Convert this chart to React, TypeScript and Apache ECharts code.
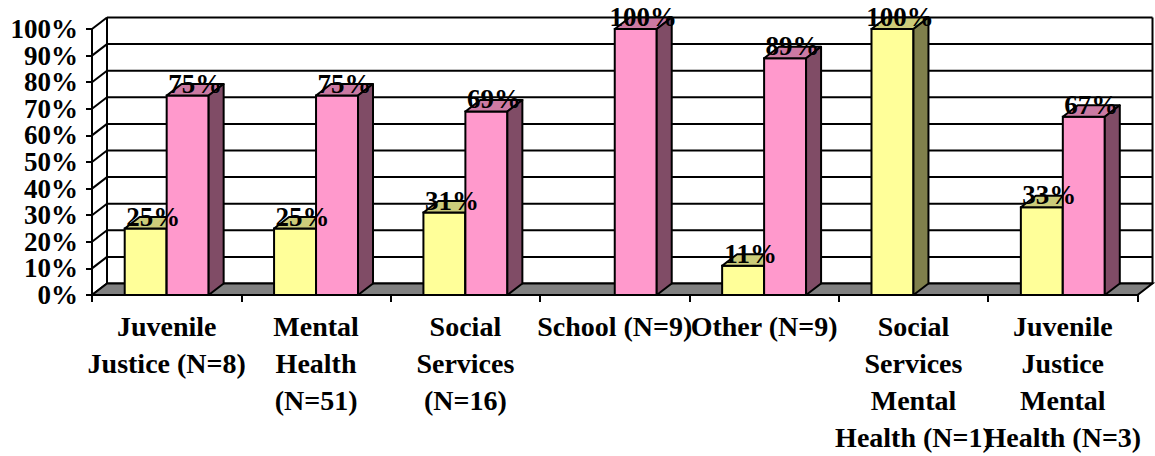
import React, { useEffect, useRef } from "react";
import * as echarts from "echarts";

// Agency categories along the floor of the chart
const categories = [
  "Juvenile\nJustice (N=8)",
  "Mental\nHealth\n(N=51)",
  "Social\nServices\n(N=16)",
  "School (N=9)",
  "Other (N=9)",
  "Social\nServices\nMental\nHealth (N=1)",
  "Juvenile\nJustice\nMental\nHealth (N=3)",
];

// Percentages for the two series in each category
const yellowValues = [25, 25, 31, 0, 11, 100, 33];
const pinkValues = [75, 75, 69, 100, 89, 0, 67];

// Value-axis levels that get a wall gridline and a tick label
const wallTicks = [0, 10, 20, 30, 40, 50, 60, 70, 80, 90, 100];

// Pseudo-3D depth offset of the back wall relative to the front plane
const DX = 15;
const DY = -11.5;
const BAR_FRACTION = 0.281;
const FONT = "'Liberation Serif', 'Times New Roman', serif";

const YELLOW = { front: "#FFFF99", top: "#CCCC7A", side: "#80804C" };
const PINK = { front: "#FF99CC", top: "#CC7AA3", side: "#804C66" };

const edge = { stroke: "#000", lineWidth: 2 };

function barRenderer(slot: number, colors: { front: string; top: string; side: string }) {
  return (params: any, api: any) => {
    const value = api.value(1);
    if (!value) return { type: "group", children: [] };
    const base = api.coord([api.value(0), 0]);
    const top = api.coord([api.value(0), value]);
    const bw = api.size([1, 0])[0] * BAR_FRACTION;
    const x0 = slot === 0 ? base[0] - bw : base[0];
    const x1 = x0 + bw;
    const yb = base[1];
    const yt = top[1];
    return {
      type: "group",
      children: [
        {
          type: "rect",
          shape: { x: x0, y: yt, width: bw, height: yb - yt },
          style: { fill: colors.front, ...edge },
        },
        {
          type: "polygon",
          shape: { points: [[x0, yt], [x1, yt], [x1 + DX, yt + DY], [x0 + DX, yt + DY]] },
          style: { fill: colors.top, ...edge, lineJoin: "round" },
        },
        {
          type: "polygon",
          shape: { points: [[x1, yt], [x1 + DX, yt + DY], [x1 + DX, yb + DY], [x1, yb]] },
          style: { fill: colors.side, ...edge, lineJoin: "round" },
        },
      ],
    };
  };
}

function labelRenderer(slot: number) {
  return (params: any, api: any) => {
    const value = api.value(1);
    if (!value) return { type: "group", children: [] };
    const base = api.coord([api.value(0), 0]);
    const top = api.coord([api.value(0), value]);
    const bw = api.size([1, 0])[0] * BAR_FRACTION;
    const x0 = slot === 0 ? base[0] - bw : base[0];
    return {
      type: "text",
      x: x0 + bw / 2 + DX / 2,
      y: top[1] - 12,
      style: {
        text: `${value}%`,
        fill: "#000",
        fontSize: 27,
        fontWeight: "bold",
        fontFamily: FONT,
        align: "center",
        verticalAlign: "middle",
      },
    };
  };
}

export default function App() {
  const ref = useRef<HTMLDivElement>(null);

  useEffect(() => {
    if (!ref.current) return;
    const chart = echarts.init(ref.current, undefined, { renderer: "svg" });

    const option: any = {
      animation: false,
      backgroundColor: "#fff",
      grid: { left: 92, top: 29, width: 1045.5, height: 271, containLabel: false },
      xAxis: {
        type: "category",
        data: categories,
        boundaryGap: true,
        axisLine: { show: true, lineStyle: { color: "#000", width: 2 } },
        axisTick: { show: true, length: 7, alignWithLabel: false, lineStyle: { color: "#000", width: 2 } },
        axisLabel: {
          interval: 0,
          margin: 13,
          color: "#000",
          fontSize: 28,
          fontWeight: "bold",
          fontFamily: FONT,
          lineHeight: 37,
          align: "center",
        },
        splitLine: { show: false },
      },
      yAxis: {
        type: "value",
        min: 0,
        max: 100,
        interval: 10,
        axisLine: { show: true, lineStyle: { color: "#000", width: 2 } },
        axisTick: { show: true, length: 6, lineStyle: { color: "#000", width: 2 } },
        // tick labels are drawn by the label series below so that every level shows
        axisLabel: { show: false },
        splitLine: { show: false },
      },
      series: [
        {
          // back wall gridlines with the matching diagonals on the side wall
          type: "custom",
          z: 1,
          data: wallTicks.map((t) => [0, t]),
          encode: { x: 0, y: 1 },
          renderItem: (params: any, api: any) => {
            const cs = params.coordSys;
            const y = api.coord([0, api.value(1)])[1];
            return {
              type: "group",
              children: [
                { type: "line", shape: { x1: cs.x, y1: y, x2: cs.x + DX, y2: y + DY }, style: edge },
                {
                  type: "line",
                  shape: { x1: cs.x + DX, y1: y + DY, x2: cs.x + cs.width + DX, y2: y + DY },
                  style: edge,
                },
              ],
            };
          },
        },
        {
          // value-axis tick labels
          type: "custom",
          z: 1,
          data: wallTicks.map((t) => [0, t]),
          encode: { x: 0, y: 1 },
          renderItem: (params: any, api: any) => {
            const cs = params.coordSys;
            const v = api.value(1);
            const y = api.coord([0, v])[1];
            return {
              type: "text",
              x: cs.x - 14,
              y,
              style: {
                text: `${v}%`,
                fill: "#000",
                fontSize: 27,
                fontWeight: "bold",
                fontFamily: FONT,
                align: "right",
                verticalAlign: "middle",
              },
            };
          },
        },
        {
          // back wall side edges and the grey floor
          type: "custom",
          z: 1,
          data: [[0, 0]],
          encode: { x: 0, y: 1 },
          renderItem: (params: any, api: any) => {
            const cs = params.coordSys;
            const y0 = api.coord([0, 0])[1];
            const y100 = api.coord([0, 100])[1];
            const xl = cs.x;
            const xr = cs.x + cs.width;
            return {
              type: "group",
              children: [
                { type: "line", shape: { x1: xl + DX, y1: y100 + DY, x2: xl + DX, y2: y0 + DY }, style: edge },
                { type: "line", shape: { x1: xr + DX, y1: y100 + DY, x2: xr + DX, y2: y0 + DY }, style: edge },
                {
                  type: "polygon",
                  shape: { points: [[xl, y0], [xr, y0], [xr + DX, y0 + DY], [xl + DX, y0 + DY]] },
                  style: { fill: "#808080", ...edge },
                },
              ],
            };
          },
        },
        {
          type: "custom",
          z: 3,
          data: yellowValues.map((v, i) => [i, v]),
          encode: { x: 0, y: 1 },
          renderItem: barRenderer(0, YELLOW),
        },
        {
          type: "custom",
          z: 3,
          data: pinkValues.map((v, i) => [i, v]),
          encode: { x: 0, y: 1 },
          renderItem: barRenderer(1, PINK),
        },
        {
          type: "custom",
          z: 10,
          data: yellowValues.map((v, i) => [i, v]),
          encode: { x: 0, y: 1 },
          renderItem: labelRenderer(0),
        },
        {
          type: "custom",
          z: 10,
          data: pinkValues.map((v, i) => [i, v]),
          encode: { x: 0, y: 1 },
          renderItem: labelRenderer(1),
        },
      ],
    };

    chart.setOption(option);
    return () => chart.dispose();
  }, []);

  return (
    <div
      ref={ref}
      style={{ position: "absolute", left: 0, top: 0, width: 1155, height: 456, background: "#fff" }}
    />
  );
}
